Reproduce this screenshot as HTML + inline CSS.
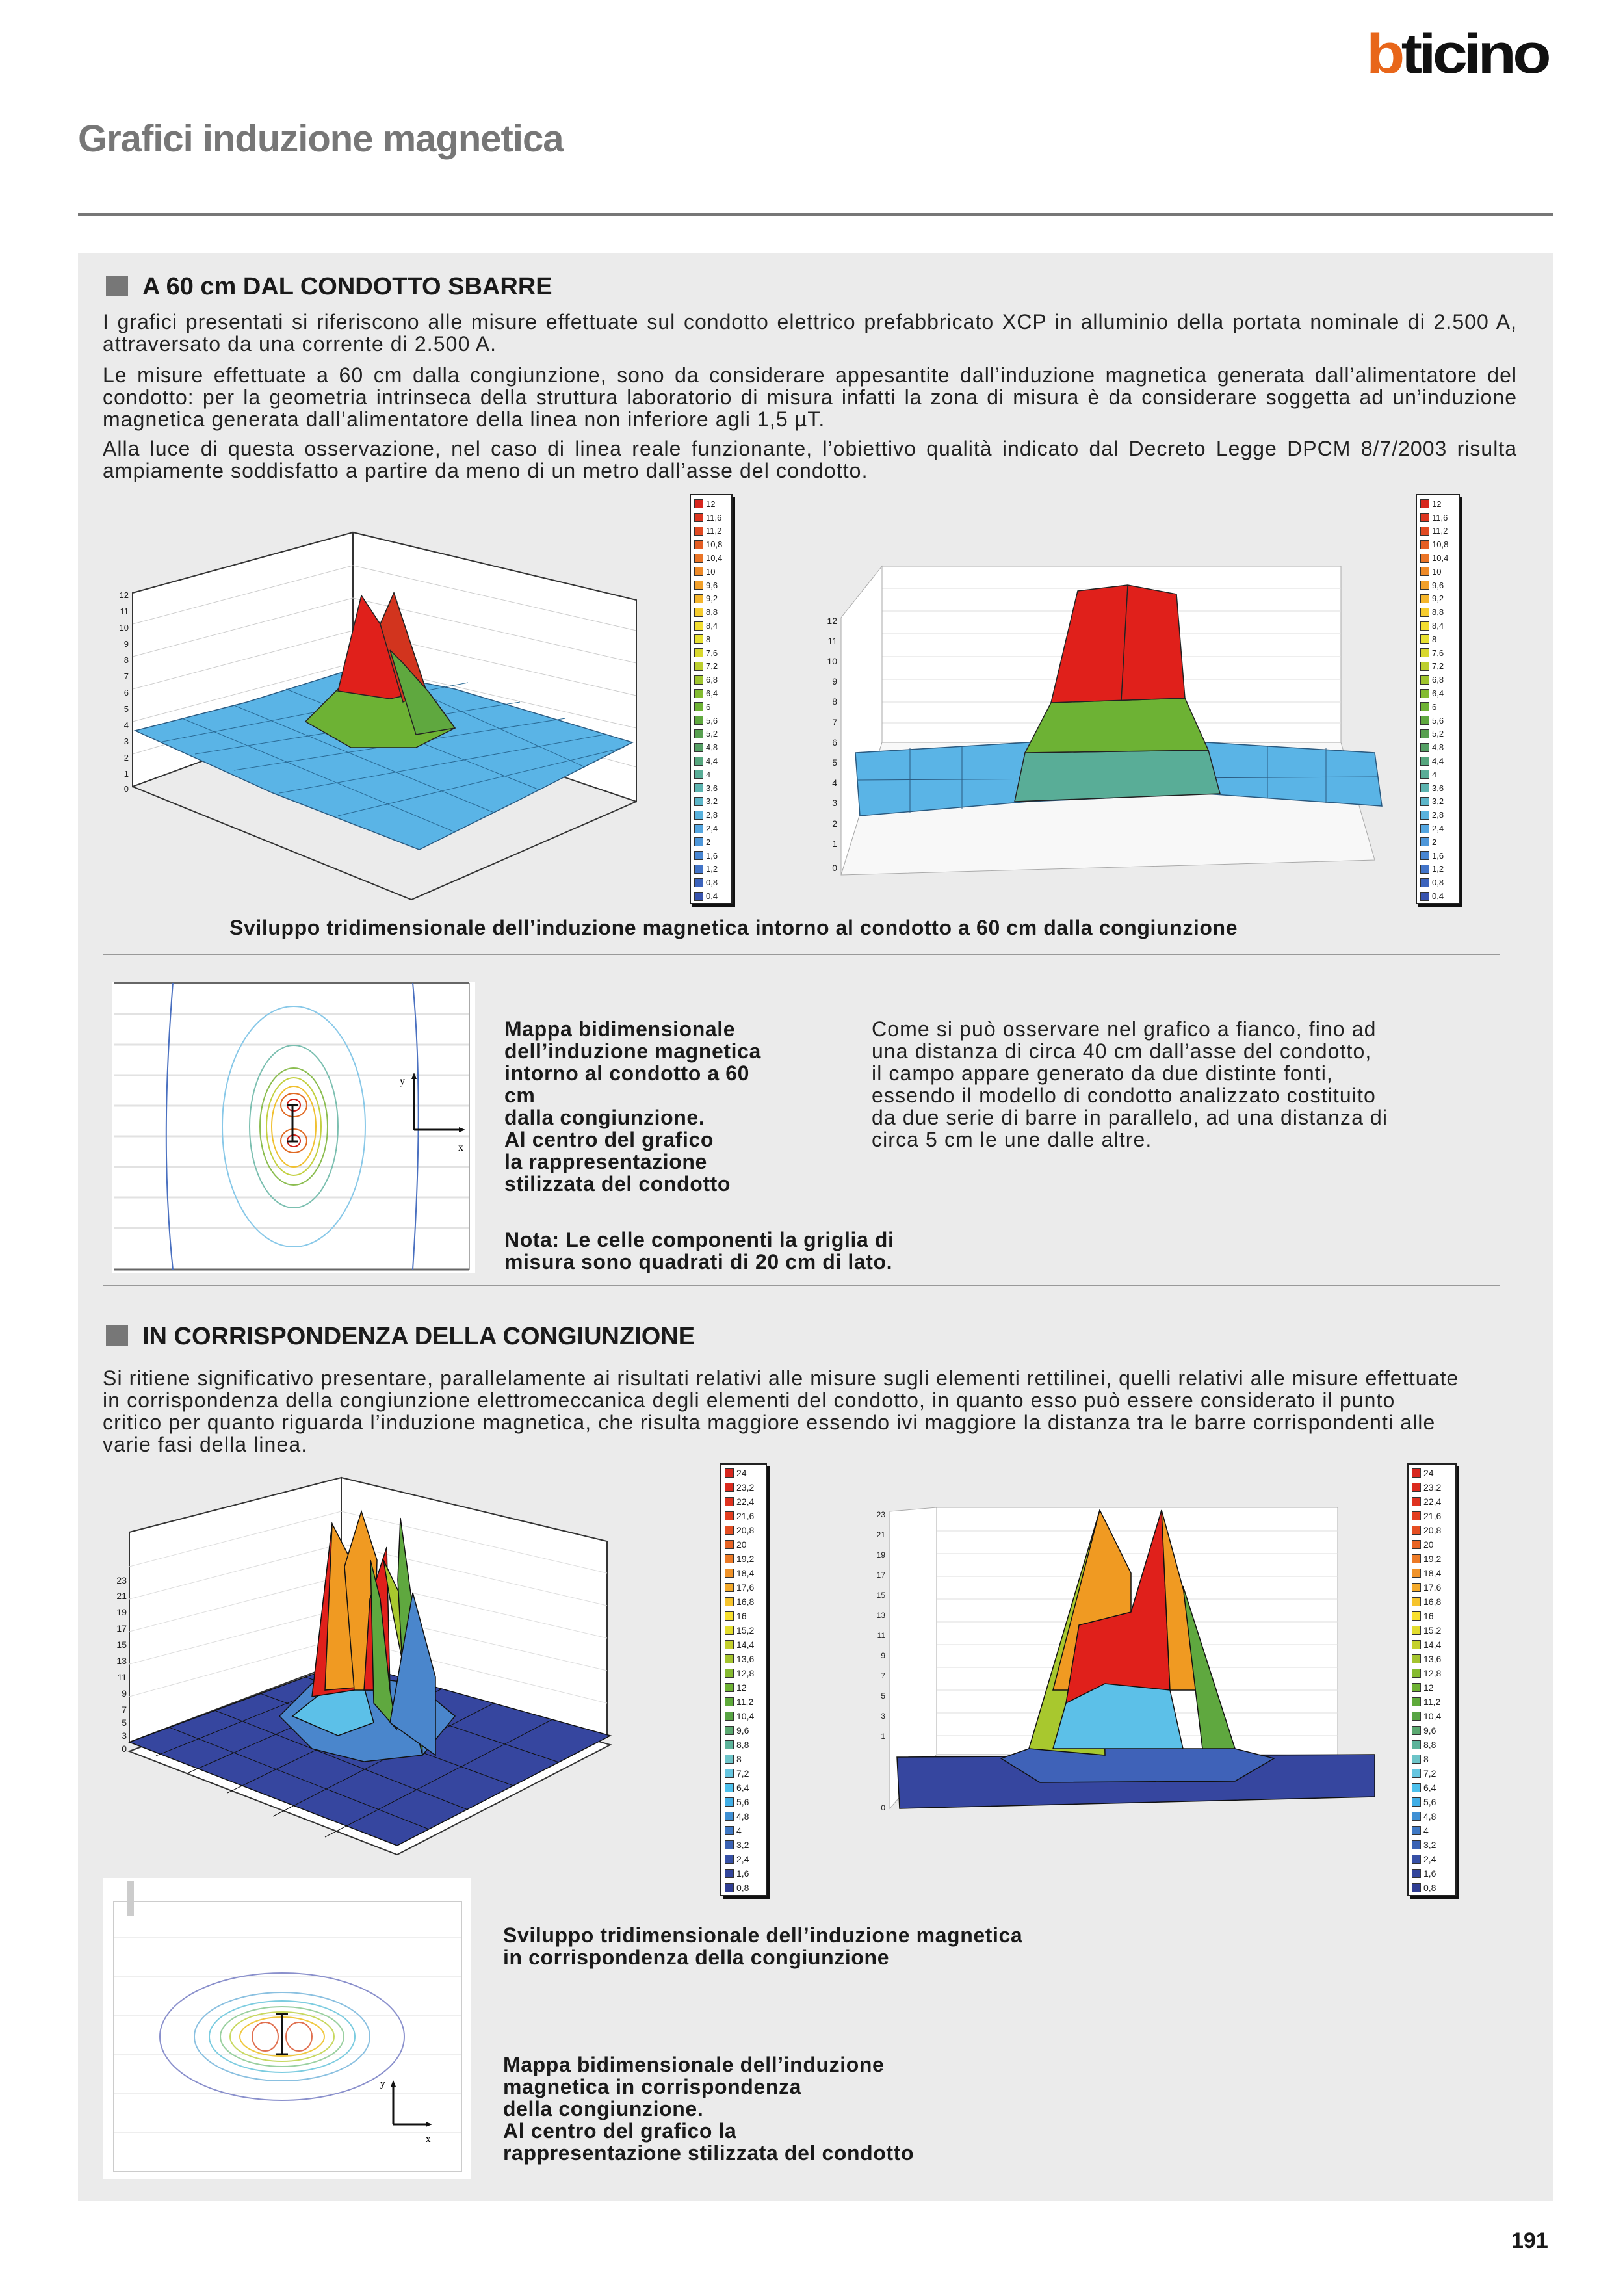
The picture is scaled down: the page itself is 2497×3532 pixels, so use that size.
<!DOCTYPE html>
<html><head><meta charset="utf-8">
<style>
html,body{margin:0;padding:0}
body{width:2497px;height:3532px;position:relative;background:#fff;font-family:"Liberation Sans",sans-serif;color:#222;overflow:hidden}
.a{position:absolute}
.ln{position:absolute;white-space:nowrap;font-size:32px;letter-spacing:1px;line-height:34px;text-align:justify;text-align-last:justify}
.b{position:absolute;font-weight:bold;font-size:32px;letter-spacing:0.6px;line-height:34px;white-space:nowrap;color:#1a1a1a}
.t{position:absolute;font-size:32px;line-height:34px;white-space:nowrap;letter-spacing:1.1px}
.lg{position:absolute;background:#fff;border:2px solid #222;box-shadow:4px 4px 0 #111;font-size:13px}
.lg div{height:var(--h);display:flex;align-items:center;padding-left:5px}
.lg i{display:inline-block;width:14px;height:14px;border:1px solid #333;margin-right:4px;box-sizing:border-box}
</style></head><body>

<div class="a" style="left:2102px;top:40px;font-size:86px;font-weight:bold;letter-spacing:-5px;line-height:86px;transform:scaleX(1.13);transform-origin:left"><span style="color:#e8661a">b</span><span style="color:#111">ticino</span></div>

<div class="a" style="left:120px;top:180px;font-size:58px;font-weight:bold;color:#777;letter-spacing:-1px">Grafici induzione magnetica</div>
<div class="a" style="left:120px;top:328px;width:2269px;height:4px;background:#777"></div>

<div class="a" style="left:120px;top:389px;width:2269px;height:2997px;background:#ebebeb"></div>

<!-- section 1 -->
<div class="a" style="left:163px;top:424px;width:34px;height:32px;background:#777"></div>
<div class="a" style="left:219px;top:420px;font-size:38px;font-weight:bold;color:#1a1a1a">A 60 cm DAL CONDOTTO SBARRE</div>

<div class="ln" style="left:158px;top:478px;width:2176px">I grafici presentati si riferiscono alle misure effettuate sul condotto elettrico prefabbricato XCP in alluminio della portata nominale di 2.500 A,</div>
<div class="t" style="left:158px;top:512px">attraversato da una corrente di 2.500 A.</div>
<div class="ln" style="left:158px;top:560px;width:2176px">Le misure effettuate a 60 cm dalla congiunzione, sono da considerare appesantite dall’induzione magnetica generata dall’alimentatore del</div>
<div class="ln" style="left:158px;top:594px;width:2176px">condotto: per la geometria intrinseca della struttura laboratorio di misura infatti la zona di misura è da considerare soggetta ad un’induzione</div>
<div class="t" style="left:158px;top:628px">magnetica generata dall’alimentatore della linea non inferiore agli 1,5 µT.</div>
<div class="ln" style="left:158px;top:673px;width:2176px">Alla luce di questa osservazione, nel caso di linea reale funzionante, l’obiettivo qualità indicato dal Decreto Legge DPCM 8/7/2003 risulta</div>
<div class="t" style="left:158px;top:707px">ampiamente soddisfatto a partire da meno di un metro dall’asse del condotto.</div>

<svg class="a" style="left:0;top:0" width="2497" height="3532" viewBox="0 0 2497 3532">
 <!-- chart 1 -->
 <g stroke="#333" stroke-width="2">
  <polygon points="204,912 543,819 543,1086 204,1210" fill="#fff"/>
  <polygon points="543,819 979,923 979,1233 543,1086" fill="#fff"/>
  <polyline points="204,1210 633,1384 979,1233" fill="none"/>
 </g>
 <g stroke="#ccc" stroke-width="1">
  <line x1="204" y1="960" x2="543" y2="870"/><line x1="204" y1="1010" x2="543" y2="920"/><line x1="204" y1="1060" x2="543" y2="970"/><line x1="204" y1="1110" x2="543" y2="1020"/><line x1="204" y1="1160" x2="543" y2="1060"/>
  <line x1="543" y1="870" x2="979" y2="970"/><line x1="543" y1="920" x2="979" y2="1020"/><line x1="543" y1="970" x2="979" y2="1070"/><line x1="543" y1="1020" x2="979" y2="1120"/><line x1="543" y1="1060" x2="979" y2="1180"/>
 </g>
 <polygon points="208,1124 380,1080 543,1029 700,1060 973,1142 800,1230 645,1307 420,1220" fill="#5ab4e6" stroke="#2a5a80" stroke-width="1.5"/>
 <g stroke="#2a6a95" stroke-width="1" fill="none">
  <line x1="250" y1="1141" x2="720" y2="1050"/><line x1="300" y1="1160" x2="800" y2="1080"/><line x1="360" y1="1185" x2="870" y2="1105"/><line x1="430" y1="1220" x2="930" y2="1130"/><line x1="520" y1="1255" x2="960" y2="1150"/>
  <line x1="280" y1="1105" x2="700" y2="1280"/><line x1="360" y1="1085" x2="760" y2="1250"/><line x1="440" y1="1060" x2="830" y2="1215"/><line x1="600" y1="1045" x2="900" y2="1180"/>
 </g>
 <polygon points="470,1110 520,1060 560,1040 610,1040 660,1065 700,1120 640,1150 540,1150" fill="#6db234" stroke="#222" stroke-width="1.5"/>
 <polygon points="520,1063 556,916 585,960 606,912 656,1063 600,1075" fill="#e0201b" stroke="#222" stroke-width="1.5"/>
 <polygon points="585,960 606,912 656,1063 620,1080" fill="#d2341e" stroke="#222" stroke-width="1.5"/>
 <polygon points="600,1000 620,1020 660,1065 700,1120 640,1130" fill="#5fa83f" stroke="#222" stroke-width="1.5"/>
 <g font-size="13" fill="#222" text-anchor="end"><text x="198" y="920">12</text><text x="198" y="945">11</text><text x="198" y="970">10</text><text x="198" y="995">9</text><text x="198" y="1020">8</text><text x="198" y="1045">7</text><text x="198" y="1070">6</text><text x="198" y="1095">5</text><text x="198" y="1120">4</text><text x="198" y="1145">3</text><text x="198" y="1170">2</text><text x="198" y="1195">1</text><text x="198" y="1218">0</text></g>

 <!-- chart 2 -->
 <rect x="1357" y="871" width="706" height="271" fill="#fff" stroke="#aaa"/>
 <g stroke="#ddd"><line x1="1357" y1="905" x2="2063" y2="905"/><line x1="1357" y1="940" x2="2063" y2="940"/><line x1="1357" y1="975" x2="2063" y2="975"/><line x1="1357" y1="1010" x2="2063" y2="1010"/><line x1="1357" y1="1045" x2="2063" y2="1045"/><line x1="1357" y1="1080" x2="2063" y2="1080"/><line x1="1357" y1="1112" x2="2063" y2="1112"/></g>
 <polygon points="1294,950 1357,871 1357,1142 1294,1346" fill="#fff" stroke="#aaa"/>
 <polygon points="1294,1346 2115,1323 2063,1142 1357,1142" fill="#f8f8f8" stroke="#aaa"/>
 <polygon points="1316,1158 1583,1142 1855,1142 2115,1158 2126,1240 1855,1221 1583,1233 1323,1255" fill="#5ab4e6" stroke="#2a5a80" stroke-width="1.5"/>
 <g stroke="#2a5a80" stroke-width="1"><line x1="1320" y1="1200" x2="2120" y2="1195"/><line x1="1400" y1="1150" x2="1400" y2="1250"/><line x1="1480" y1="1147" x2="1480" y2="1245"/><line x1="1950" y1="1147" x2="1950" y2="1228"/><line x1="2040" y1="1150" x2="2040" y2="1235"/></g>
 <polygon points="1577,1158 1859,1154 1877,1221 1561,1233" fill="#59ad97" stroke="#222" stroke-width="1.5"/>
 <polygon points="1617,1081 1823,1074 1859,1154 1577,1158" fill="#6db234" stroke="#222" stroke-width="1.5"/>
 <polygon points="1658,909 1735,900 1810,914 1823,1074 1617,1081" fill="#e0201b" stroke="#222" stroke-width="1.5"/>
 <line x1="1735" y1="900" x2="1725" y2="1078" stroke="#222" stroke-width="1.5"/>
 <g font-size="14" fill="#222" text-anchor="end"><text x="1288" y="960">12</text><text x="1288" y="991">11</text><text x="1288" y="1022">10</text><text x="1288" y="1053">9</text><text x="1288" y="1084">8</text><text x="1288" y="1116">7</text><text x="1288" y="1147">6</text><text x="1288" y="1178">5</text><text x="1288" y="1209">4</text><text x="1288" y="1240">3</text><text x="1288" y="1272">2</text><text x="1288" y="1303">1</text><text x="1288" y="1340">0</text></g>

 <!-- contour map 1 -->
 <rect x="172" y="1511" width="559" height="448" fill="#fff"/>
 <g stroke="#e2e2e2" stroke-width="3"><line x1="175" y1="1560" x2="722" y2="1560"/><line x1="175" y1="1607" x2="722" y2="1607"/><line x1="175" y1="1654" x2="722" y2="1654"/><line x1="175" y1="1701" x2="722" y2="1701"/><line x1="175" y1="1748" x2="722" y2="1748"/><line x1="175" y1="1795" x2="722" y2="1795"/><line x1="175" y1="1842" x2="722" y2="1842"/><line x1="175" y1="1889" x2="722" y2="1889"/></g>
 <line x1="175" y1="1512" x2="722" y2="1512" stroke="#666" stroke-width="3"/>
 <line x1="175" y1="1953" x2="722" y2="1953" stroke="#666" stroke-width="3"/>
 <line x1="722" y1="1512" x2="722" y2="1953" stroke="#aaa" stroke-width="2"/>
 <g fill="none" stroke-width="2">
  <path d="M266,1512 C255,1650 250,1800 266,1953" stroke="#4a70c0"/>
  <path d="M635,1512 C648,1650 645,1800 635,1953" stroke="#4a70c0"/>
  <ellipse cx="452" cy="1733" rx="110" ry="185" stroke="#88c8e8"/>
  <ellipse cx="452" cy="1733" rx="68" ry="125" stroke="#7bbfb0"/>
  <ellipse cx="452" cy="1733" rx="52" ry="90" stroke="#8bbd50"/>
  <ellipse cx="452" cy="1733" rx="42" ry="75" stroke="#c3d040"/>
  <ellipse cx="452" cy="1733" rx="34" ry="62" stroke="#f0c030"/>
  <ellipse cx="452" cy="1700" rx="20" ry="18" stroke="#e06a24"/>
  <ellipse cx="452" cy="1755" rx="20" ry="18" stroke="#e06a24"/>
  <ellipse cx="452" cy="1700" rx="10" ry="9" stroke="#d02018"/>
  <ellipse cx="452" cy="1755" rx="10" ry="9" stroke="#d02018"/>
 </g>
 <g stroke="#111" stroke-width="3"><line x1="450" y1="1700" x2="450" y2="1756"/><line x1="442" y1="1700" x2="458" y2="1700"/><line x1="442" y1="1756" x2="458" y2="1756"/>
 <line x1="637" y1="1655" x2="637" y2="1738"/><line x1="637" y1="1738" x2="712" y2="1738"/></g>
 <polygon points="637,1650 633,1660 641,1660" fill="#111"/><polygon points="716,1738 706,1734 706,1742" fill="#111"/>
 <text x="615" y="1668" font-size="16" font-family="Liberation Serif">y</text><text x="705" y="1770" font-size="16" font-family="Liberation Serif">x</text>

 <line x1="158" y1="1468" x2="2307" y2="1468" stroke="#999" stroke-width="2"/>
 <line x1="158" y1="1977" x2="2307" y2="1977" stroke="#999" stroke-width="2"/>

 <!-- chart 3 -->
 <g stroke="#333" stroke-width="2">
  <polygon points="199,2357 525,2273 525,2557 199,2680" fill="#fff"/>
  <polygon points="525,2273 934,2371 934,2670 525,2557" fill="#fff"/>
 </g>
 <g stroke="#ddd" stroke-width="1">
  <line x1="199" y1="2410" x2="525" y2="2325"/><line x1="199" y1="2460" x2="525" y2="2375"/><line x1="199" y1="2510" x2="525" y2="2425"/><line x1="199" y1="2560" x2="525" y2="2475"/><line x1="199" y1="2610" x2="525" y2="2520"/>
  <line x1="525" y1="2325" x2="934" y2="2420"/><line x1="525" y1="2375" x2="934" y2="2470"/><line x1="525" y1="2425" x2="934" y2="2520"/><line x1="525" y1="2475" x2="934" y2="2570"/><line x1="525" y1="2520" x2="934" y2="2620"/>
 </g>
 <polygon points="199,2680 532,2557 939,2670 611,2839" fill="#fff" stroke="#333" stroke-width="2" transform="translate(0,14)"/>
 <polygon points="199,2680 532,2557 939,2670 611,2839" fill="#36469f" stroke="#111" stroke-width="1.5"/>
 <g stroke="#111" stroke-width="1"><line x1="240" y1="2701" x2="572" y2="2568"/><line x1="290" y1="2727" x2="620" y2="2582"/><line x1="350" y1="2758" x2="680" y2="2598"/><line x1="420" y1="2794" x2="760" y2="2620"/><line x1="500" y1="2826" x2="850" y2="2645"/>
 <line x1="260" y1="2657" x2="660" y2="2814"/><line x1="330" y1="2631" x2="720" y2="2784"/><line x1="400" y1="2605" x2="790" y2="2747"/><line x1="470" y1="2580" x2="860" y2="2711"/></g>
 <polygon points="430,2640 480,2590 560,2580 640,2590 700,2640 650,2700 560,2710 480,2690" fill="#4a86cc" stroke="#111" stroke-width="1.5"/>
 <polygon points="450,2640 500,2600 560,2595 575,2650 520,2670" fill="#5cc0e8" stroke="#111" stroke-width="1.5"/>
 <polygon points="480,2610 511,2344 535,2400 545,2600" fill="#e0201b" stroke="#111" stroke-width="1.5"/>
 <polygon points="500,2600 511,2344 545,2410 560,2595" fill="#f09a22" stroke="#111" stroke-width="1.5"/>
 <polygon points="530,2410 556,2325 580,2400 575,2600 545,2600" fill="#f09a22" stroke="#111" stroke-width="1.5"/>
 <polygon points="560,2600 569,2460 595,2380 600,2600" fill="#e0201b" stroke="#111" stroke-width="1.5"/>
 <polygon points="575,2620 570,2400 585,2460 600,2600 610,2660" fill="#5fa83f" stroke="#111" stroke-width="1.5"/>
 <polygon points="590,2400 638,2500 620,2560 600,2460" fill="#a8c82e" stroke="#111" stroke-width="1.5"/>
 <polygon points="612,2430 616,2335 640,2510 650,2700 620,2580" fill="#5fa83f" stroke="#111" stroke-width="1.5"/>
 <polygon points="600,2650 635,2450 670,2580 670,2700" fill="#4a86cc" stroke="#111" stroke-width="1.5"/>
 <g font-size="14" fill="#222" text-anchor="end"><text x="195" y="2436">23</text><text x="195" y="2460">21</text><text x="195" y="2485">19</text><text x="195" y="2510">17</text><text x="195" y="2535">15</text><text x="195" y="2560">13</text><text x="195" y="2585">11</text><text x="195" y="2610">9</text><text x="195" y="2635">7</text><text x="195" y="2655">5</text><text x="195" y="2675">3</text><text x="195" y="2695">0</text></g>

 <!-- chart 4 -->
 <rect x="1441" y="2319" width="617" height="380" fill="#fff" stroke="#aaa"/>
 <g stroke="#ddd"><line x1="1441" y1="2355" x2="2058" y2="2355"/><line x1="1441" y1="2390" x2="2058" y2="2390"/><line x1="1441" y1="2425" x2="2058" y2="2425"/><line x1="1441" y1="2460" x2="2058" y2="2460"/><line x1="1441" y1="2495" x2="2058" y2="2495"/><line x1="1441" y1="2530" x2="2058" y2="2530"/><line x1="1441" y1="2565" x2="2058" y2="2565"/><line x1="1441" y1="2600" x2="2058" y2="2600"/><line x1="1441" y1="2635" x2="2058" y2="2635"/><line x1="1441" y1="2670" x2="2058" y2="2670"/></g>
 <polygon points="1369,2325 1441,2319 1441,2699 1369,2782" fill="#fff" stroke="#aaa"/>
 <polygon points="1380,2703 2115,2699 2115,2764 1384,2782" fill="#36469f" stroke="#111" stroke-width="1.5"/>
 <polygon points="1540,2705 1583,2690 1900,2690 1960,2705 1900,2740 1600,2742" fill="#3f62b8" stroke="#111" stroke-width="1.5"/>
 <polygon points="1583,2690 1692,2323 1700,2700" fill="#a8c82e" stroke="#111" stroke-width="1.5"/>
 <polygon points="1620,2600 1692,2323 1740,2420 1740,2600" fill="#f09a22" stroke="#111" stroke-width="1.5"/>
 <polygon points="1640,2620 1660,2500 1740,2480 1787,2323 1800,2600 1740,2640" fill="#e0201b" stroke="#111" stroke-width="1.5"/>
 <polygon points="1787,2323 1830,2480 1850,2600 1800,2600" fill="#f09a22" stroke="#111" stroke-width="1.5"/>
 <polygon points="1820,2440 1900,2690 1850,2690" fill="#5fa83f" stroke="#111" stroke-width="1.5"/>
 <polygon points="1640,2620 1700,2590 1800,2600 1820,2690 1620,2690" fill="#5cc0e8" stroke="#111" stroke-width="1.5"/>
 <g font-size="12" fill="#222" text-anchor="end"><text x="1362" y="2334">23</text><text x="1362" y="2365">21</text><text x="1362" y="2396">19</text><text x="1362" y="2427">17</text><text x="1362" y="2458">15</text><text x="1362" y="2489">13</text><text x="1362" y="2520">11</text><text x="1362" y="2551">9</text><text x="1362" y="2582">7</text><text x="1362" y="2613">5</text><text x="1362" y="2644">3</text><text x="1362" y="2675">1</text><text x="1362" y="2785">0</text></g>

 <!-- contour map 2 -->
 <rect x="158" y="2889" width="566" height="463" fill="#fff"/>
 <rect x="175" y="2925" width="535" height="415" fill="none" stroke="#ccc" stroke-width="2"/>
 <g stroke="#eee" stroke-width="2"><line x1="175" y1="2980" x2="710" y2="2980"/><line x1="175" y1="3040" x2="710" y2="3040"/><line x1="175" y1="3100" x2="710" y2="3100"/><line x1="175" y1="3160" x2="710" y2="3160"/><line x1="175" y1="3220" x2="710" y2="3220"/><line x1="175" y1="3280" x2="710" y2="3280"/></g>
 <rect x="196" y="2893" width="10" height="55" fill="#ccc"/>
 <g fill="none" stroke-width="2">
  <ellipse cx="434" cy="3133" rx="188" ry="98" stroke="#8a90cc"/>
  <ellipse cx="434" cy="3133" rx="135" ry="68" stroke="#8ac0e0"/>
  <ellipse cx="434" cy="3133" rx="112" ry="55" stroke="#7ccce0"/>
  <ellipse cx="434" cy="3133" rx="95" ry="46" stroke="#9ad0a0"/>
  <ellipse cx="434" cy="3133" rx="80" ry="38" stroke="#c8d860"/>
  <ellipse cx="434" cy="3133" rx="65" ry="30" stroke="#f0c840"/>
  <ellipse cx="408" cy="3133" rx="20" ry="22" stroke="#e07050"/>
  <ellipse cx="460" cy="3133" rx="20" ry="22" stroke="#e07050"/>
 </g>
 <g stroke="#111" stroke-width="3"><line x1="434" y1="3098" x2="434" y2="3160"/><line x1="425" y1="3098" x2="443" y2="3098"/><line x1="425" y1="3160" x2="443" y2="3160"/>
 <line x1="605" y1="3205" x2="605" y2="3268"/><line x1="605" y1="3268" x2="660" y2="3268"/></g>
 <polygon points="605,3200 601,3210 609,3210" fill="#111"/><polygon points="665,3268 655,3264 655,3272" fill="#111"/>
 <text x="585" y="3210" font-size="15" font-family="Liberation Serif">y</text><text x="655" y="3295" font-size="15" font-family="Liberation Serif">x</text>
</svg>

<!-- legend 1 -->
<div class="lg" style="left:1061px;top:760px;width:62px;--h:20.8px;padding-top:3px">
<div><i style="background:#d7261e"></i>12</div><div><i style="background:#dc3520"></i>11,6</div><div><i style="background:#e04a22"></i>11,2</div><div><i style="background:#e55e24"></i>10,8</div><div><i style="background:#ea7426"></i>10,4</div><div><i style="background:#ee8a28"></i>10</div><div><i style="background:#f2a02a"></i>9,6</div><div><i style="background:#f5b62c"></i>9,2</div><div><i style="background:#f6cc2e"></i>8,8</div><div><i style="background:#f3de30"></i>8,4</div><div><i style="background:#e8e030"></i>8</div><div><i style="background:#d9d82e"></i>7,6</div><div><i style="background:#bccf2e"></i>7,2</div><div><i style="background:#9fc52f"></i>6,8</div><div><i style="background:#83bb31"></i>6,4</div><div><i style="background:#6db234"></i>6</div><div><i style="background:#5fa83f"></i>5,6</div><div><i style="background:#58a050"></i>5,2</div><div><i style="background:#55a065"></i>4,8</div><div><i style="background:#56a67e"></i>4,4</div><div><i style="background:#59ad97"></i>4</div><div><i style="background:#5cb4b0"></i>3,6</div><div><i style="background:#5cb6c9"></i>3,2</div><div><i style="background:#59b2dd"></i>2,8</div><div><i style="background:#54a6e0"></i>2,4</div><div><i style="background:#4e97da"></i>2</div><div><i style="background:#4886d2"></i>1,6</div><div><i style="background:#4274c8"></i>1,2</div><div><i style="background:#3c63bc"></i>0,8</div><div><i style="background:#3753ae"></i>0,4</div>
</div>
<!-- legend 2 -->
<div class="lg" style="left:2178px;top:760px;width:64px;--h:20.8px;padding-top:3px">
<div><i style="background:#d7261e"></i>12</div><div><i style="background:#dc3520"></i>11,6</div><div><i style="background:#e04a22"></i>11,2</div><div><i style="background:#e55e24"></i>10,8</div><div><i style="background:#ea7426"></i>10,4</div><div><i style="background:#ee8a28"></i>10</div><div><i style="background:#f2a02a"></i>9,6</div><div><i style="background:#f5b62c"></i>9,2</div><div><i style="background:#f6cc2e"></i>8,8</div><div><i style="background:#f3de30"></i>8,4</div><div><i style="background:#e8e030"></i>8</div><div><i style="background:#d9d82e"></i>7,6</div><div><i style="background:#bccf2e"></i>7,2</div><div><i style="background:#9fc52f"></i>6,8</div><div><i style="background:#83bb31"></i>6,4</div><div><i style="background:#6db234"></i>6</div><div><i style="background:#5fa83f"></i>5,6</div><div><i style="background:#58a050"></i>5,2</div><div><i style="background:#55a065"></i>4,8</div><div><i style="background:#56a67e"></i>4,4</div><div><i style="background:#59ad97"></i>4</div><div><i style="background:#5cb4b0"></i>3,6</div><div><i style="background:#5cb6c9"></i>3,2</div><div><i style="background:#59b2dd"></i>2,8</div><div><i style="background:#54a6e0"></i>2,4</div><div><i style="background:#4e97da"></i>2</div><div><i style="background:#4886d2"></i>1,6</div><div><i style="background:#4274c8"></i>1,2</div><div><i style="background:#3c63bc"></i>0,8</div><div><i style="background:#3753ae"></i>0,4</div>
</div>
<!-- legend 3 -->
<div class="lg" style="left:1108px;top:2251px;width:68px;--h:22px;padding-top:2px;font-size:14px">
<div><i style="background:#d7261e"></i>24</div><div><i style="background:#db2a1e"></i>23,2</div><div><i style="background:#df321f"></i>22,4</div><div><i style="background:#e33e20"></i>21,6</div><div><i style="background:#e54e22"></i>20,8</div><div><i style="background:#e86424"></i>20</div><div><i style="background:#ec7a26"></i>19,2</div><div><i style="background:#f09228"></i>18,4</div><div><i style="background:#f4aa2a"></i>17,6</div><div><i style="background:#f6c42c"></i>16,8</div><div><i style="background:#f8e02e"></i>16</div><div><i style="background:#e2dc2c"></i>15,2</div><div><i style="background:#c4d02c"></i>14,4</div><div><i style="background:#a4c42e"></i>13,6</div><div><i style="background:#86ba30"></i>12,8</div><div><i style="background:#6eb234"></i>12</div><div><i style="background:#5eaa3a"></i>11,2</div><div><i style="background:#58a444"></i>10,4</div><div><i style="background:#5aa870"></i>9,6</div><div><i style="background:#5cb39a"></i>8,8</div><div><i style="background:#6cc4c8"></i>8</div><div><i style="background:#66c6e0"></i>7,2</div><div><i style="background:#4cc0ec"></i>6,4</div><div><i style="background:#40aee6"></i>5,6</div><div><i style="background:#3f90d4"></i>4,8</div><div><i style="background:#3e78c4"></i>4</div><div><i style="background:#3a62b4"></i>3,2</div><div><i style="background:#3650a6"></i>2,4</div><div><i style="background:#33469c"></i>1,6</div><div><i style="background:#303e94"></i>0,8</div>
</div>
<!-- legend 4 -->
<div class="lg" style="left:2165px;top:2251px;width:72px;--h:22px;padding-top:2px;font-size:14px">
<div><i style="background:#d7261e"></i>24</div><div><i style="background:#db2a1e"></i>23,2</div><div><i style="background:#df321f"></i>22,4</div><div><i style="background:#e33e20"></i>21,6</div><div><i style="background:#e54e22"></i>20,8</div><div><i style="background:#e86424"></i>20</div><div><i style="background:#ec7a26"></i>19,2</div><div><i style="background:#f09228"></i>18,4</div><div><i style="background:#f4aa2a"></i>17,6</div><div><i style="background:#f6c42c"></i>16,8</div><div><i style="background:#f8e02e"></i>16</div><div><i style="background:#e2dc2c"></i>15,2</div><div><i style="background:#c4d02c"></i>14,4</div><div><i style="background:#a4c42e"></i>13,6</div><div><i style="background:#86ba30"></i>12,8</div><div><i style="background:#6eb234"></i>12</div><div><i style="background:#5eaa3a"></i>11,2</div><div><i style="background:#58a444"></i>10,4</div><div><i style="background:#5aa870"></i>9,6</div><div><i style="background:#5cb39a"></i>8,8</div><div><i style="background:#6cc4c8"></i>8</div><div><i style="background:#66c6e0"></i>7,2</div><div><i style="background:#4cc0ec"></i>6,4</div><div><i style="background:#40aee6"></i>5,6</div><div><i style="background:#3f90d4"></i>4,8</div><div><i style="background:#3e78c4"></i>4</div><div><i style="background:#3a62b4"></i>3,2</div><div><i style="background:#3650a6"></i>2,4</div><div><i style="background:#33469c"></i>1,6</div><div><i style="background:#303e94"></i>0,8</div>
</div>

<div class="b" style="left:353px;top:1410px">Sviluppo tridimensionale dell’induzione magnetica intorno al condotto a 60 cm dalla congiunzione</div>

<div class="b" style="left:776px;top:1566px">Mappa bidimensionale<br>dell’induzione magnetica<br>intorno al condotto a 60<br>cm<br>dalla congiunzione.<br>Al centro del grafico<br>la rappresentazione<br>stilizzata del condotto</div>
<div class="t" style="left:1341px;top:1566px">Come si può osservare nel grafico a fianco, fino ad<br>una distanza di circa 40 cm dall’asse del condotto,<br>il campo appare generato da due distinte fonti,<br>essendo il modello di condotto analizzato costituito<br>da due serie di barre in parallelo, ad una distanza di<br>circa 5 cm le une dalle altre.</div>
<div class="b" style="left:776px;top:1890px">Nota: Le celle componenti la griglia di<br>misura sono quadrati di 20 cm di lato.</div>

<!-- section 2 -->
<div class="a" style="left:163px;top:2039px;width:34px;height:32px;background:#777"></div>
<div class="a" style="left:219px;top:2035px;font-size:38px;font-weight:bold;color:#1a1a1a">IN CORRISPONDENZA DELLA CONGIUNZIONE</div>
<div class="t" style="left:158px;top:2103px">Si ritiene significativo presentare, parallelamente ai risultati relativi alle misure sugli elementi rettilinei, quelli relativi alle misure effettuate<br>in corrispondenza della congiunzione elettromeccanica degli elementi del condotto, in quanto esso può essere considerato il punto<br>critico per quanto riguarda l’induzione magnetica, che risulta maggiore essendo ivi maggiore la distanza tra le barre corrispondenti alle<br>varie fasi della linea.</div>

<div class="b" style="left:774px;top:2960px">Sviluppo tridimensionale dell’induzione magnetica<br>in corrispondenza della congiunzione</div>
<div class="b" style="left:774px;top:3159px">Mappa bidimensionale dell’induzione<br>magnetica in corrispondenza<br>della congiunzione.<br>Al centro del grafico la<br>rappresentazione stilizzata del condotto</div>

<div class="a" style="left:2325px;top:3428px;font-size:34px;font-weight:bold;color:#1a1a1a">191</div>
</body></html>
